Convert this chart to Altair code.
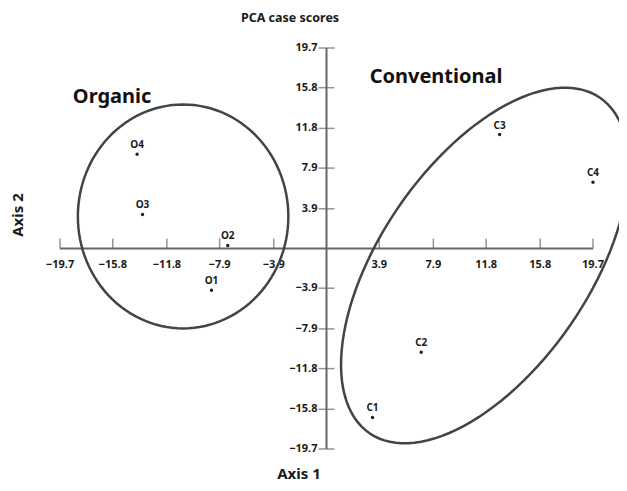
import altair as alt
import pandas as pd
import numpy as np

# --- data ---
tick_values = [-19.7, -15.8, -11.8, -7.9, -3.9, 3.9, 7.9, 11.8, 15.8, 19.7]
case_names = ["O1", "O2", "O3", "O4", "C1", "C2", "C3", "C4"]
axis1_scores = [-8.5, -7.3, -13.6, -14.0, 3.4, 7.0, 12.8, 19.7]
axis2_scores = [-4.1, 0.3, 3.35, 9.26, -16.6, -10.2, 11.2, 6.5]

group_names = ["Organic", "Conventional"]
group_label_x = [-15.85, 8.1]
group_label_y = [14.9, 16.85]

# ellipse: centre and two conjugate semi-axis vectors (data units)
ell_cx = [-10.6, 11.7]
ell_cy = [3.15, -1.67]
ell_ux = [7.78, 8.52]
ell_uy = [0.0, 16.48]
ell_vx = [0.0, -6.35]
ell_vy = [11.0, 5.80]

LIM = 19.7

points = pd.DataFrame({"name": case_names, "x": axis1_scores, "y": axis2_scores})
ticks = pd.DataFrame({"v": tick_values, "zero": [0.0] * len(tick_values)})
groups = pd.DataFrame({"name": group_names, "x": group_label_x, "y": group_label_y})

t = np.linspace(0, 2 * np.pi, 121)
rows = []
for g in range(2):
    for i, tt in enumerate(t):
        rows.append({
            "g": group_names[g], "i": i,
            "x": ell_cx[g] + ell_ux[g] * np.cos(tt) + ell_vx[g] * np.sin(tt),
            "y": ell_cy[g] + ell_uy[g] * np.cos(tt) + ell_vy[g] * np.sin(tt),
        })
ellipses = pd.DataFrame(rows)

xs = alt.Scale(domain=[-LIM, LIM], nice=False, zero=False)
ys = alt.Scale(domain=[-LIM, LIM], nice=False, zero=False)
FONT = "Noto Sans"
AXC = "#666666"
TXT = "#1a1a1a"

xaxis_line = alt.Chart(pd.DataFrame({"a": [-LIM], "b": [LIM], "z": [0.0]})).mark_rule(
    color=AXC, strokeWidth=2).encode(
    x=alt.X("a:Q", scale=xs, axis=None), x2="b:Q",
    y=alt.Y("z:Q", scale=ys, axis=None))
yaxis_line = alt.Chart(pd.DataFrame({"a": [-LIM], "b": [LIM], "z": [0.0]})).mark_rule(
    color=AXC, strokeWidth=2).encode(
    y=alt.Y("a:Q", scale=ys, axis=None), y2="b:Q",
    x=alt.X("z:Q", scale=xs, axis=None))

xticks = alt.Chart(ticks).mark_tick(orient="vertical", size=10, thickness=1.5,
                                    yOffset=-5, color=AXC).encode(
    x=alt.X("v:Q", scale=xs, axis=None), y=alt.Y("zero:Q", scale=ys, axis=None))
yticks = alt.Chart(ticks).mark_tick(orient="horizontal", size=16, thickness=1.5,
                                    color=AXC).encode(
    y=alt.Y("v:Q", scale=ys, axis=None), x=alt.X("zero:Q", scale=xs, axis=None))

xlabels = alt.Chart(ticks).mark_text(dy=16, font=FONT, fontSize=11, fontWeight="bold",
                                     color=TXT, baseline="middle").encode(
    x=alt.X("v:Q", scale=xs, axis=None), y=alt.Y("zero:Q", scale=ys, axis=None),
    text=alt.Text("v:Q", format=".1f"))
ylabels = alt.Chart(ticks).mark_text(dx=-9, align="right", font=FONT, fontSize=11,
                                     fontWeight="bold", color=TXT, baseline="middle").encode(
    y=alt.Y("v:Q", scale=ys, axis=None), x=alt.X("zero:Q", scale=xs, axis=None),
    text=alt.Text("v:Q", format=".1f"))

ell = alt.Chart(ellipses).mark_line(color="#444444", strokeWidth=2.5, clip=False).encode(
    x=alt.X("x:Q", scale=xs, axis=None), y=alt.Y("y:Q", scale=ys, axis=None),
    detail="g:N", order="i:Q")

dots = alt.Chart(points).mark_circle(size=12, color="#222222", opacity=1).encode(
    x=alt.X("x:Q", scale=xs, axis=None), y=alt.Y("y:Q", scale=ys, axis=None))
dot_labels = alt.Chart(points).mark_text(dy=-9, font=FONT, fontSize=10, fontWeight="bold",
                                         color=TXT).encode(
    x=alt.X("x:Q", scale=xs, axis=None), y=alt.Y("y:Q", scale=ys, axis=None), text="name:N")

group_text = alt.Chart(groups).mark_text(font=FONT, fontSize=20, fontWeight="bold",
                                         color="#111111", baseline="middle").encode(
    x=alt.X("x:Q", scale=xs, axis=None), y=alt.Y("y:Q", scale=ys, axis=None), text="name:N")

title_text = alt.Chart(pd.DataFrame({"t": ["PCA case scores"]})).mark_text(
    font=FONT, fontSize=12.5, fontWeight="bold", color=TXT, baseline="middle").encode(
    x=alt.value(230), y=alt.value(-30), text="t:N")
ax1_text = alt.Chart(pd.DataFrame({"t": ["Axis 1"]})).mark_text(
    font=FONT, fontSize=15, fontWeight="bold", color=TXT, baseline="middle").encode(
    x=alt.value(239), y=alt.value(426), text="t:N")
ax2_text = alt.Chart(pd.DataFrame({"t": ["Axis 2"]})).mark_text(
    font=FONT, fontSize=15, fontWeight="bold", color=TXT, baseline="middle", angle=270).encode(
    x=alt.value(-42), y=alt.value(167), text="t:N")

chart = alt.layer(
    xaxis_line, yaxis_line, xticks, yticks, xlabels, ylabels,
    ell, dots, dot_labels, group_text, title_text, ax1_text, ax2_text
).properties(
    width=533, height=401,
    background="white",
    autosize=alt.AutoSizeParams(type="none"),
    padding={"left": 52, "top": 40, "right": 26, "bottom": 33},
).configure_view(strokeWidth=0, stroke="transparent")

chart.save("out.html", embed_options={"renderer": "svg", "actions": False})
